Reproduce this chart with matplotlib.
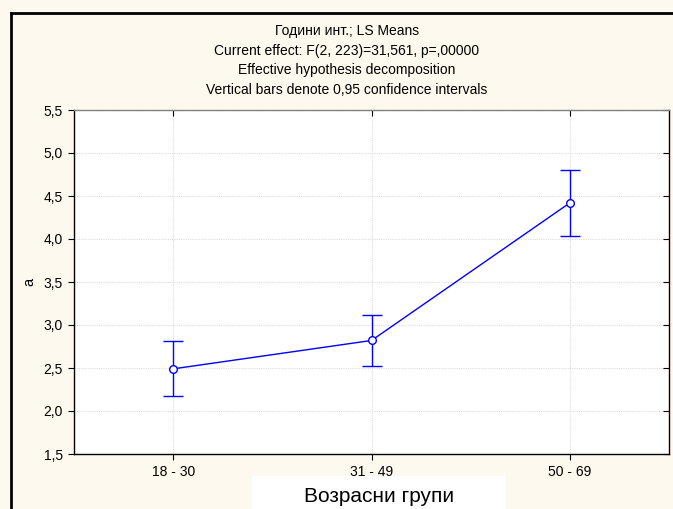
import matplotlib.pyplot as plt
from matplotlib.patches import Rectangle
from matplotlib.lines import Line2D
from matplotlib.ticker import FuncFormatter

plt.rcParams['font.family'] = ['Liberation Sans', 'DejaVu Sans']

# Данни
groups = ["18 - 30", "31 - 49", "50 - 69"]
means = [2.49, 2.82, 4.42]
ci_low = [2.17, 2.52, 4.03]
ci_high = [2.81, 3.12, 4.80]

title_lines = [
    "Години инт.; LS Means",
    "Current effect: F(2, 223)=31,561, p=,00000",
    "Effective hypothesis decomposition",
    "Vertical bars denote 0,95 confidence intervals",
]

bg = "#FEF9EE"
blue = "#0000FF"

fig = plt.figure(figsize=(6.73, 5.09), dpi=100, facecolor=bg)
ax = fig.add_axes([74 / 673, 55 / 509, 595 / 673, 344 / 509])
ax.set_facecolor("white")

x = list(range(len(groups)))
err_low = [m - l for m, l in zip(means, ci_low)]
err_high = [h - m for m, h in zip(means, ci_high)]
ax.errorbar(x, means, yerr=[err_low, err_high], color=blue, lw=1,
             capsize=7.2, capthick=1, marker="o", markersize=5.5,
             markerfacecolor="white", markeredgecolor=blue, markeredgewidth=1,
             zorder=3)

ax.set_xlim(-0.5, 2.5)
ax.set_ylim(1.5, 5.5)
ax.set_xticks(x)
ax.set_xticklabels(groups, fontsize=10)
ax.set_yticks([1.5 + 0.5 * i for i in range(9)])
ax.yaxis.set_major_formatter(FuncFormatter(lambda v, p: f"{v:.1f}".replace(".", ",")))
ax.tick_params(axis="y", labelsize=10, direction="out", length=4, pad=4)
ax.tick_params(axis="x", direction="out", length=4, pad=4)
ax.tick_params(top=True, right=True)
ax.grid(True, color="#DDDDDD", linestyle=(0, (1, 1)), linewidth=0.8)
ax.set_axisbelow(True)
for s in ["left", "bottom", "right"]:
    ax.spines[s].set_color("black")
ax.spines["top"].set_color("#808080")
for s in ax.spines.values():
    s.set_linewidth(1)

# Горни и десни чертички навътре
for t in ax.xaxis.get_major_ticks():
    t.tick2line.set_marker(3)
for t in ax.yaxis.get_major_ticks():
    t.tick2line.set_marker(0)

ax.set_ylabel("a", fontsize=10.5)
ax.yaxis.set_label_coords(-0.064, 0.5)

# Заглавие
for i, line in enumerate(title_lines):
    fig.text(347 / 673, 1 - (31 + 19.5 * i) / 509, line, ha="center",
             va="center", fontsize=10)

# Етикет на x оста в бяла кутия
fig.patches.append(Rectangle((252 / 673, 0), 254 / 673, 33 / 509,
                             transform=fig.transFigure, facecolor="white",
                             edgecolor="none"))
fig.text(379 / 673, 1 - 497 / 509, "Возрасни групи",
         ha="center", va="center", fontsize=15)

# Рамка горе и вляво
fig.lines.append(Line2D([11 / 673, 1], [1 - 13 / 509, 1 - 13 / 509],
                        transform=fig.transFigure, color="black", lw=2))
fig.lines.append(Line2D([11 / 673, 11 / 673], [0, 1 - 13 / 509],
                        transform=fig.transFigure, color="black", lw=2))

fig.savefig("out.png", dpi=100, facecolor=bg)
